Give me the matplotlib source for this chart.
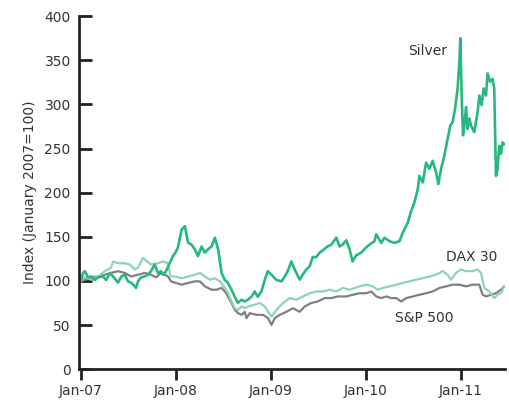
import matplotlib.pyplot as plt

plt.rcParams['font.family'] = ['DejaVu Sans']

# months since January 2007, index values (January 2007 = 100)
silver_m = [0.0, 0.31, 0.53, 0.94, 1.32, 1.79, 2.20, 2.83, 3.21, 3.68, 4.09, 4.47, 4.72,
            5.14, 5.57, 5.98, 6.36, 6.82, 6.99, 7.24, 7.62, 8.08, 8.50, 8.88, 9.34, 9.76,
            10.14, 10.39, 10.77, 11.23, 11.65, 12.03, 12.28, 12.74, 13.16, 13.54, 14.00,
            14.42, 14.80, 15.26, 15.68, 16.05, 16.52, 16.94, 17.35, 17.78, 18.20, 18.57,
            19.04, 19.45, 19.83, 20.30, 20.71, 21.09, 21.56, 21.97, 22.35, 22.82, 23.23,
            23.61, 24.08, 24.71, 25.34, 25.75, 26.13, 26.59, 27.01, 27.64, 28.02, 28.48,
            28.90, 29.28, 29.74, 30.16, 30.54, 31.16, 31.63, 32.26, 32.68, 33.05, 33.52,
            33.94, 34.31, 34.78, 35.41, 36.04, 36.45, 37.08, 37.30, 37.93, 38.34, 38.97,
            39.60, 40.23, 40.65, 41.28, 41.70, 42.12, 42.54, 42.75, 43.17, 43.59, 44.01,
            44.42, 44.85, 45.14, 45.48, 45.90, 46.31, 46.65, 46.94, 47.25, 47.57, 47.79,
            47.91, 48.08, 48.25, 48.42, 48.63, 48.83, 49.05, 49.26, 49.67, 50.09, 50.31,
            50.60, 50.85, 51.15, 51.35, 51.69, 51.98, 52.19, 52.41, 52.61, 52.82, 53.04,
            53.24, 53.45]
silver_v = [99.5, 109, 111, 104, 105, 101, 104, 105, 101, 109, 105, 101, 98,
            105, 107, 99.5, 98, 94, 92, 99.5, 104, 105, 107, 111, 118.5, 109,
            111, 107, 111, 120, 128, 133, 138, 158, 162, 143.5, 141,
            135.6, 128, 139, 132, 135.6, 139, 149, 135.6, 109, 101, 98,
            90, 82, 75, 78.6, 76.7, 78.6, 82, 88, 82, 88, 101,
            111, 107, 101, 99.5, 105, 111, 122, 113, 101.4, 107, 113,
            116.6, 127, 127, 132, 134.5, 139, 141, 149, 139, 141, 146,
            135.6, 122, 129, 132, 138, 141, 145, 152.7, 143, 149, 145,
            143, 145, 154.6, 166, 179, 189, 204, 219, 211.6, 234, 227,
            236, 223, 209.7, 227, 242, 261, 276, 280, 295, 318, 348,
            375, 310, 265, 276, 297, 272, 284, 276, 268.6, 291, 310,
            299, 318, 310, 335, 325.5, 329, 318, 219, 227, 253, 244,
            257, 255]

dax_m = [0.0, 0.53, 1.32, 2.20, 3.05, 3.84, 4.09, 4.72, 5.57, 6.20, 6.82, 7.24, 7.87,
         8.88, 9.76, 10.39, 11.02, 11.36, 11.90, 12.74, 13.54, 14.42, 15.05, 15.68,
         16.31, 16.94, 17.57, 18.20, 18.61, 19.04, 19.45, 19.87, 20.30, 20.71, 21.13,
         21.97, 22.60, 23.23, 23.65, 24.08, 24.71, 25.54, 26.38, 27.22, 28.06, 28.90,
         29.74, 30.57, 31.42, 32.26, 33.09, 33.94, 35.19, 36.04, 36.87, 37.50, 38.13,
         38.97, 39.82, 40.65, 41.49, 42.33, 43.17, 44.01, 44.85, 45.68, 46.31, 46.74,
         47.37, 48.00, 48.63, 49.46, 50.09, 50.52, 50.94, 51.57, 52.19, 52.61, 53.04,
         53.45]
dax_v = [99.5, 104, 101.4, 105, 111, 115, 122, 120, 120, 118.5, 113, 115, 126,
         118.5, 120, 122, 120, 105, 105, 103, 105, 107, 109, 105,
         101.4, 103, 99.5, 92, 86, 76.7, 69, 67, 71, 69, 71,
         73, 75, 71, 65, 59.6, 67, 75, 80.5, 78.6, 82.4, 86,
         88, 88, 90, 88, 92, 90, 93.8, 95.7, 93.8, 90, 92,
         93.8, 95.7, 97.6, 99.5, 101.4, 103, 105, 107, 111, 107, 101.4,
         109, 113, 111, 111, 113, 109, 92, 88, 80.5, 84.3, 86,
         93.8]

sp_m = [0.0, 1.32, 2.20, 3.05, 3.84, 4.72, 5.57, 6.36, 7.24, 8.08, 8.88, 9.51, 10.14,
        10.60, 11.02, 11.40, 12.03, 12.74, 13.54, 14.42, 15.05, 15.68, 16.52, 17.15,
        17.78, 18.20, 18.61, 19.04, 19.45, 19.87, 20.30, 20.71, 20.93, 21.34, 22.19,
        23.02, 23.65, 24.08, 24.49, 25.12, 25.96, 26.80, 27.64, 28.27, 29.11, 29.94,
        30.79, 31.63, 32.46, 33.52, 34.35, 35.19, 36.04, 36.67, 37.30, 37.93, 38.56,
        39.19, 39.82, 40.45, 41.08, 41.91, 42.75, 43.59, 44.42, 45.27, 46.11, 46.94,
        47.79, 48.63, 49.46, 50.31, 50.72, 51.15, 51.78, 52.41, 53.04, 53.45]
sp_v = [99.5, 104, 105, 107, 109, 111, 109, 105, 107, 109, 107, 104, 109,
        107, 105, 99.5, 97.6, 95.7, 97.6, 99.5, 99.5, 93.8, 90, 90,
        92, 88, 82, 75, 67, 63.4, 61.5, 65, 57.8, 63.4, 61.5,
        61.5, 57.8, 50, 57.8, 61.5, 65, 69, 65, 71, 75, 76.7,
        80.5, 80.5, 82.4, 82.4, 84.3, 86, 86, 88, 82.4, 80.5, 82.4,
        80.5, 80.5, 76.7, 80.5, 82.4, 84.3, 86, 88, 92, 93.8, 95.7,
        95.7, 93.8, 95.7, 95.7, 84.3, 82.4, 84.3, 86, 90, 93.8]

tick_months = [0, 12, 24, 36, 48]
tick_labels = ['Jan-07', 'Jan-08', 'Jan-09', 'Jan-10', 'Jan-11']
y_ticks = [0, 50, 100, 150, 200, 250, 300, 350, 400]

text_col = '#333333'
fig = plt.figure(figsize=(5.10, 4.03), dpi=100)
ax = fig.add_axes([0.155, 0.084, 0.836, 0.876])

ax.plot(sp_m, sp_v, color='#808080', lw=1.6)
ax.plot(dax_m, dax_v, color='#8fd3b2', lw=1.6)
ax.plot(silver_m, silver_v, color='#27b77f', lw=1.9)

ax.text(43.8, 361, 'Silver', color=text_col, fontsize=10, ha='center', va='center')
ax.text(49.3, 127.6, 'DAX 30', color=text_col, fontsize=10, ha='center', va='center')
ax.text(43.3, 58, 'S&P 500', color=text_col, fontsize=10, ha='center', va='center')

ax.set_xlim(-0.2, 53.6)
ax.set_ylim(0, 400)
ax.set_xticks(tick_months)
ax.set_xticklabels(tick_labels)
ax.set_yticks(y_ticks)
ax.set_ylabel('Index (January 2007=100)', color=text_col, fontsize=10, labelpad=5)

for s in ['top', 'right']:
    ax.spines[s].set_visible(False)
for s in ['left', 'bottom']:
    ax.spines[s].set_linewidth(2)
    ax.spines[s].set_color('#222222')
ax.tick_params(axis='y', direction='in', length=9, width=2, color='#222222',
               labelsize=10, labelcolor=text_col, pad=6)
ax.tick_params(axis='x', direction='out', length=8, width=2, color='#222222',
               labelsize=10, labelcolor=text_col, pad=3)

plt.savefig('out.png', dpi=100)
